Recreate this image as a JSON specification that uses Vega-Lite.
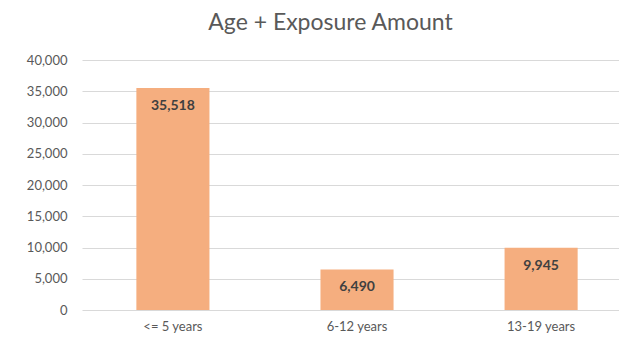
{
  "$schema": "https://vega.github.io/schema/vega-lite/v6.json",
  "autosize": "none",
  "width": 537,
  "height": 250,
  "padding": {"left": 82, "top": 60, "right": 0, "bottom": 31},
  "background": "#ffffff",
  "title": {
    "text": "Age + Exposure Amount",
    "font": "Lato",
    "fontSize": 23,
    "fontWeight": "normal",
    "color": "#595959",
    "anchor": "middle",
    "dx": -20,
    "offset": 19
  },
  "data": {
    "values": [
      {"age": "<= 5 years", "amount": 35518},
      {"age": "6-12 years", "amount": 6490},
      {"age": "13-19 years", "amount": 9945}
    ]
  },
  "encoding": {
    "x": {
      "field": "age",
      "type": "nominal",
      "sort": null,
      "scale": {"paddingInner": 0.603, "paddingOuter": 0.26, "align": 0.568},
      "axis": {
        "title": null,
        "labelAngle": 0,
        "ticks": false,
        "domain": false,
        "labelPadding": 10,
        "labelFont": "Lato",
        "labelFontSize": 13,
        "labelColor": "#595959"
      }
    },
    "y": {
      "field": "amount",
      "type": "quantitative",
      "scale": {"domain": [0, 40000], "nice": false},
      "axis": {
        "title": null,
        "values": [0, 5000, 10000, 15000, 20000, 25000, 30000, 35000, 40000],
        "format": ",.0f",
        "ticks": false,
        "domain": false,
        "grid": true,
        "gridColor": "#d9d9d9",
        "gridWidth": 1,
        "labelPadding": 15,
        "labelFont": "Lato",
        "labelFontSize": 13,
        "labelColor": "#595959"
      }
    }
  },
  "layer": [
    {"mark": {"type": "bar", "color": "#F5AE7F"}},
    {
      "mark": {
        "type": "text",
        "baseline": "middle",
        "dy": 18,
        "font": "Lato",
        "fontSize": 14,
        "fontWeight": "bold",
        "color": "#404040"
      },
      "encoding": {"text": {"field": "amount", "type": "quantitative", "format": ",.0f"}}
    }
  ],
  "config": {"view": {"stroke": null}}
}
